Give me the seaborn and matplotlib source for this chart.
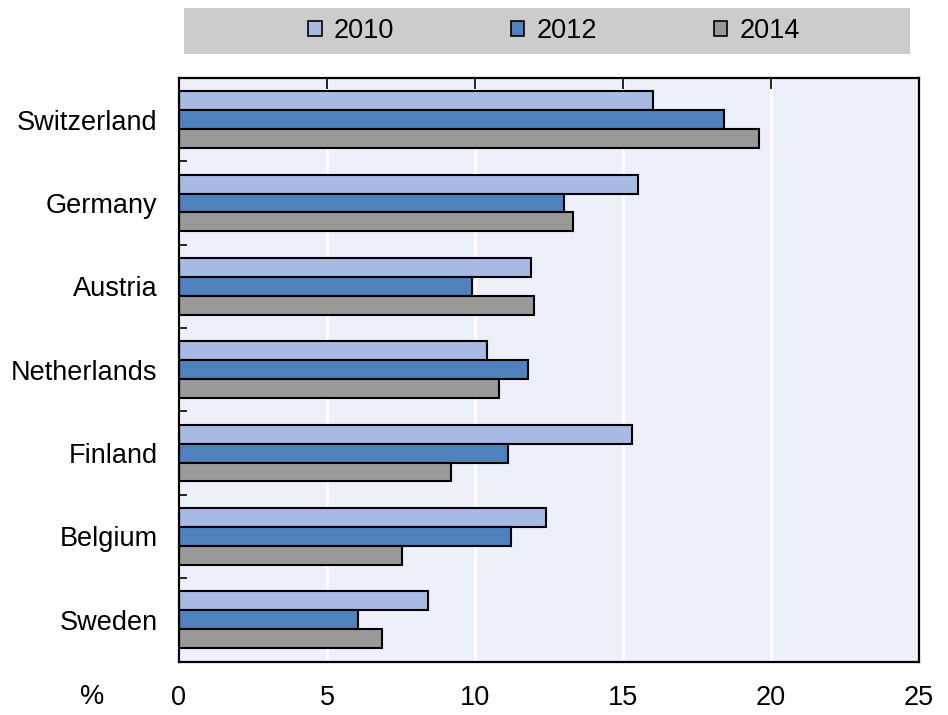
import matplotlib
matplotlib.use('Agg')
import matplotlib.pyplot as plt
from matplotlib.patches import Rectangle
import seaborn as sns
import pandas as pd

countries = ['Switzerland', 'Germany', 'Austria', 'Netherlands', 'Finland', 'Belgium', 'Sweden']
years = ['2010', '2012', '2014']
v2010 = [16.0, 15.5, 11.9, 10.4, 15.3, 12.4, 8.4]
v2012 = [18.4, 13.0, 9.9, 11.8, 11.1, 11.2, 6.05]
v2014 = [19.6, 13.3, 12.0, 10.8, 9.2, 7.55, 6.85]
colors = ['#a8b9e3', '#4f81bd', '#999999']

df = pd.DataFrame({'country': countries, '2010': v2010, '2012': v2012, '2014': v2014})
df = df.melt(id_vars='country', var_name='year', value_name='value')

sns.set_style('white')
plt.rcParams['font.family'] = ['Liberation Sans Narrow', 'Liberation Sans', 'DejaVu Sans']
plt.rcParams['text.color'] = 'black'
plt.rcParams['xtick.color'] = 'black'
plt.rcParams['ytick.color'] = 'black'
fs = 19.5

fig = plt.figure(figsize=(9.48, 7.15), dpi=100)
ax = fig.add_axes([179 / 948, 1 - 661.5 / 715, (919 - 179) / 948, (661.5 - 78) / 715])
ax.set_facecolor('#edf0f8')

sns.barplot(data=df, y='country', x='value', hue='year', order=countries, hue_order=years,
            palette=colors, width=0.68, edgecolor='black', linewidth=1.5, saturation=1,
            orient='h', ax=ax, legend=False)

ax.set_xlim(0, 25)
ax.set_ylim(6.5, -0.5)
ax.set_xticks([0, 5, 10, 15, 20, 25])
ax.set_xticklabels(['0', '5', '10', '15', '20', '25'])
ax.set_xlabel('')
ax.set_ylabel('')
ax.xaxis.grid(True, color='white', linewidth=2)
ax.set_axisbelow(True)

for s in ax.spines.values():
    s.set_color('black')
    s.set_linewidth(1.6)

# ticks: top inward at major x, left inward between categories
ax.tick_params(axis='x', which='major', bottom=False, top=True, direction='in', length=8,
               width=1.2, labelsize=fs, pad=17, labelbottom=True, labeltop=False,
               labelcolor='black')
ax.tick_params(axis='y', which='major', left=False, labelsize=fs, pad=12, labelcolor='black')
ax.set_yticks([i + 0.5 for i in range(len(countries) - 1)], minor=True)
ax.tick_params(axis='y', which='minor', left=True, direction='in', length=6, width=1.2)

ax.text(92 / 948, 1 - 697 / 715, '%', transform=fig.transFigure, ha='center', va='center',
        fontsize=fs, color='black')

# legend band
fig.patches.append(Rectangle((184 / 948, 1 - 54 / 715), (910 - 184) / 948, 46 / 715,
                             transform=fig.transFigure, facecolor='#cccccc', edgecolor='none', zorder=0))
handles = [Rectangle((0, 0), 1, 1, facecolor=c, edgecolor='black', linewidth=1.2) for c in colors]
leg = fig.legend(handles, years, loc='center', bbox_to_anchor=(554 / 948, 1 - 31 / 715), ncol=3,
                 frameon=False, fontsize=fs, handlelength=0.5, handleheight=0.5, handletextpad=0.45,
                 columnspacing=4.3, borderpad=0)
for t in leg.get_texts():
    t.set_color('black')

fig.savefig('out.png', dpi=100)
